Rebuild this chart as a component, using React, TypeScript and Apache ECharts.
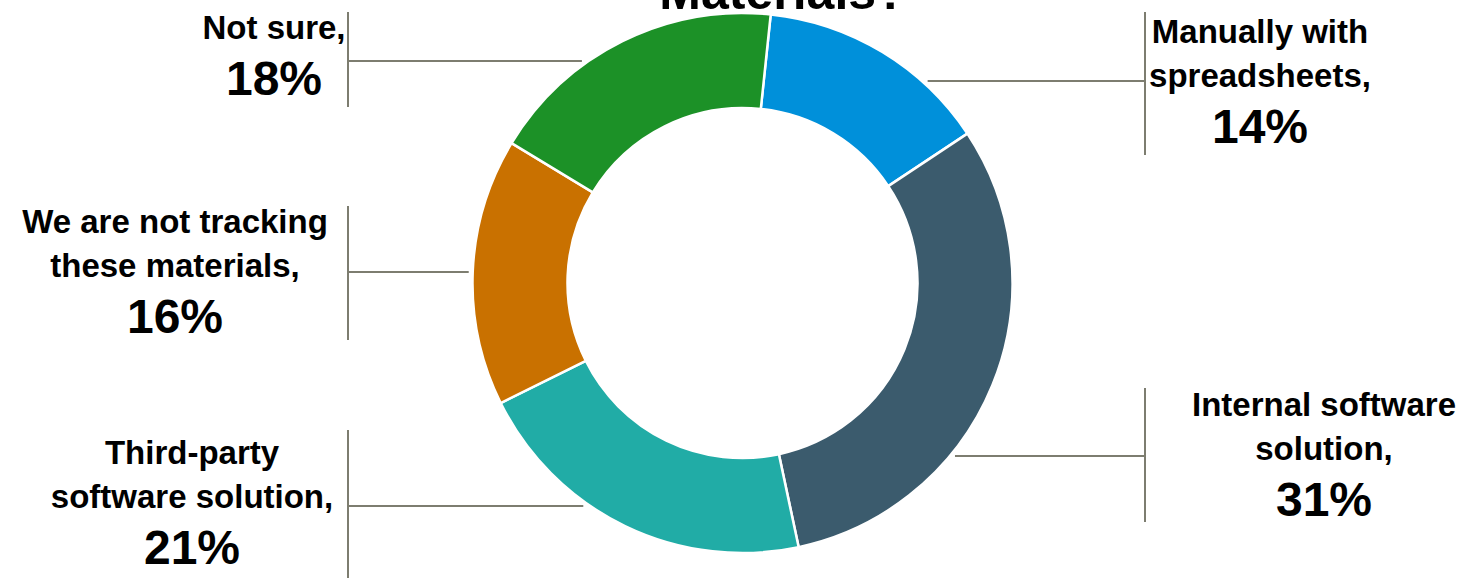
import React, { useEffect, useRef } from 'react';
import * as echarts from 'echarts';

// ---- data ----
const categories = [
  'Manually with\nspreadsheets,',
  'Internal software\nsolution,',
  'Third-party\nsoftware solution,',
  'We are not tracking\nthese materials,',
  'Not sure,',
];
const shares = [14, 31, 21, 16, 18];
const sliceColors = ['#0090DA', '#3B5B6D', '#21ACA6', '#C97100', '#1C9127'];
const titleText = 'Materials?';

// ---- layout ----
const W = 1464;
const H = 580;
const CX = 742.5;
const CY = 283;
const R_OUT = 270;
const R_IN = 175;
const FONT = '"Liberation Sans", Arial, Helvetica, sans-serif';
const LINE_COLOR = '#7d7d70';

// label placement (side: 1 right, -1 left)
const labelSpots = [
  { x: 1260, y: 82, side: 1, barX: 1145, barTop: 12, barBottom: 155, lineY: 81 },
  { x: 1324, y: 455, side: 1, barX: 1145, barTop: 388, barBottom: 522, lineY: 456 },
  { x: 192, y: 503, side: -1, barX: 348, barTop: 430, barBottom: 578, lineY: 506 },
  { x: 175, y: 272, side: -1, barX: 348, barTop: 206, barBottom: 340, lineY: 272 },
  { x: 274, y: 56, side: -1, barX: 348, barTop: 12, barBottom: 107, lineY: 61 },
];

export default function App() {
  const ref = useRef<HTMLDivElement>(null);

  useEffect(() => {
    if (!ref.current) return;
    const chart = echarts.init(ref.current, null, { renderer: 'svg' });

    const edgeX = (lineY: number, side: number) => {
      const r = R_OUT + 4;
      const dy = lineY - CY;
      const dx = Math.sqrt(Math.max(0, r * r - dy * dy));
      return CX + side * dx;
    };

    chart.setOption({
      animation: false,
      backgroundColor: '#ffffff',
      graphic: [
        {
          type: 'text',
          style: {
            text: titleText,
            x: 783,
            y: 17,
            align: 'center',
            verticalAlign: 'bottom',
            font: `bold 50px ${FONT}`,
            fill: '#000000',
          },
        },
      ],
      series: [
        {
          type: 'pie',
          center: [CX, CY],
          radius: [R_IN, R_OUT],
          startAngle: 84,
          clockwise: true,
          avoidLabelOverlap: false,
          itemStyle: { borderColor: '#ffffff', borderWidth: 2.5 },
          data: categories.map((name, i) => ({
            name,
            value: shares[i],
            itemStyle: { color: sliceColors[i] },
          })),
          label: {
            show: true,
            position: 'outside',
            formatter: (p: any) => `{n|${p.name}}\n{p|${p.value}%}`,
            rich: {
              n: {
                fontFamily: FONT,
                fontSize: 33,
                fontWeight: 'bold',
                lineHeight: 44,
                color: '#000000',
              },
              p: {
                fontFamily: FONT,
                fontSize: 48,
                fontWeight: 'bold',
                lineHeight: 58,
                color: '#000000',
              },
            },
          },
          labelLine: {
            show: true,
            lineStyle: { color: LINE_COLOR, width: 2 },
          },
          labelLayout: (params: any) => {
            const s = labelSpots[params.dataIndex];
            const ex = edgeX(s.lineY, s.side);
            return {
              x: s.x,
              y: s.y,
              align: 'center',
              verticalAlign: 'middle',
              labelLinePoints: [
                [ex, s.lineY],
                [s.barX, s.lineY],
                [s.barX, s.barTop],
                [s.barX, s.barBottom],
              ],
            };
          },
        },
      ],
    });

    return () => chart.dispose();
  }, []);

  return (
    <div
      ref={ref}
      style={{ position: 'fixed', left: 0, top: 0, width: W, height: H, background: '#fff' }}
    />
  );
}
